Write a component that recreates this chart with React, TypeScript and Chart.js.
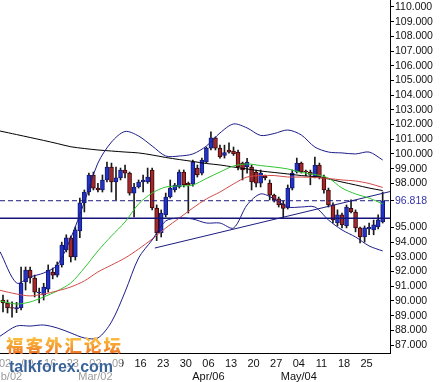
import React, { useEffect, useRef } from 'react';
import { Chart, registerables } from 'chart.js';

Chart.register(...registerables);

// ---- Candles (daily, Feb 02 .. May 29) ----
const opens = [90.06, 89.86, 89.55, 89.45, 89.52, 91.29, 92.10, 91.56, 90.55, 90.40, 90.80, 91.97, 91.76, 92.45, 93.47, 94.30, 92.99, 94.76, 96.67, 97.41, 98.57, 97.68, 97.55, 98.23, 99.11, 98.09, 98.37, 98.91, 98.70, 97.34, 97.75, 98.09, 98.09, 98.91, 96.32, 94.62, 95.85, 97.07, 97.55, 97.75, 98.77, 98.00, 97.95, 99.04, 98.70, 99.45, 100.40, 101.09, 100.40, 99.90, 100.27, 100.20, 100.13, 99.38, 99.11, 99.11, 98.77, 98.02, 98.50, 98.02, 97.20, 96.94, 96.60, 96.32, 97.68, 98.77, 99.38, 98.84, 98.77, 98.43, 99.25, 98.43, 97.55, 96.53, 95.30, 95.85, 95.10, 96.30, 96.05, 94.97, 94.35, 94.90, 94.83, 95.03, 95.38];
const highs = [90.40, 90.06, 89.93, 89.90, 92.30, 92.31, 92.31, 91.76, 90.88, 91.20, 92.45, 92.24, 92.65, 94.00, 94.50, 94.42, 95.03, 97.00, 97.55, 98.70, 98.77, 98.00, 98.57, 99.45, 99.38, 99.10, 99.04, 99.25, 98.77, 98.00, 98.23, 98.57, 99.04, 99.04, 96.53, 96.19, 97.34, 98.23, 98.00, 98.91, 98.91, 98.09, 99.59, 99.25, 99.72, 100.47, 101.50, 101.16, 100.60, 100.60, 100.75, 100.47, 100.27, 99.45, 99.70, 99.25, 98.91, 98.91, 98.57, 98.23, 97.27, 97.07, 96.80, 97.89, 98.91, 99.72, 99.45, 98.91, 98.90, 99.79, 99.38, 98.57, 97.68, 96.67, 96.20, 95.98, 96.53, 96.87, 96.19, 95.03, 95.10, 95.30, 95.50, 95.85, 97.41];
const lows = [89.25, 89.18, 88.90, 89.20, 89.38, 90.74, 91.20, 90.27, 89.86, 90.06, 90.60, 91.50, 91.63, 92.30, 93.33, 92.65, 92.78, 94.30, 96.05, 97.20, 97.55, 97.41, 97.41, 98.09, 97.41, 96.87, 98.23, 98.37, 97.20, 95.71, 97.68, 97.41, 98.00, 96.19, 94.10, 94.35, 95.71, 97.00, 97.41, 97.68, 97.75, 95.98, 97.80, 98.43, 98.57, 99.38, 100.27, 100.27, 99.72, 99.72, 100.05, 99.90, 98.91, 98.23, 98.70, 97.55, 97.75, 97.75, 98.23, 96.87, 96.73, 96.39, 95.62, 96.25, 97.55, 98.70, 98.70, 98.50, 97.90, 98.37, 98.30, 97.34, 96.39, 95.30, 95.10, 94.97, 94.97, 95.98, 94.70, 93.94, 94.00, 94.50, 94.50, 94.90, 95.30];
const closes = [89.86, 89.52, 89.50, 89.55, 91.22, 92.10, 91.56, 90.60, 90.60, 90.95, 92.10, 91.76, 92.45, 93.80, 94.30, 92.99, 94.83, 96.67, 97.41, 98.57, 97.68, 97.55, 98.23, 99.11, 98.09, 98.37, 98.91, 98.70, 97.34, 97.75, 98.09, 98.23, 98.43, 96.32, 94.62, 95.98, 97.07, 97.68, 97.89, 98.77, 97.89, 97.89, 99.45, 98.57, 99.59, 100.40, 101.09, 100.40, 99.79, 100.10, 100.13, 100.00, 99.11, 98.91, 99.45, 98.09, 98.02, 98.70, 98.37, 97.20, 96.87, 96.53, 96.30, 97.68, 98.70, 99.38, 98.77, 98.77, 98.60, 99.25, 98.43, 97.55, 96.53, 95.51, 95.85, 95.17, 96.39, 96.05, 94.97, 94.35, 94.97, 95.00, 95.17, 95.51, 96.818];

// ---- Indicators, read about every 3rd trading day (first point at the left edge) ----
const indIdx = [-0.66, 3, 6, 9, 12, 15, 18, 21, 24, 27, 30, 33, 36, 39, 42, 45, 48, 51, 54, 57, 60, 63, 66, 69, 72, 75, 78, 81, 84];
const longMA = [101.56, 101.32, 101.12, 100.92, 100.71, 100.49, 100.37, 100.27, 100.20, 100.13, 100.07, 99.93, 99.76, 99.62, 99.49, 99.35, 99.25, 99.11, 98.98, 98.84, 98.74, 98.64, 98.53, 98.45, 98.30, 98.09, 97.89, 97.68, 97.51];
const fastMA = [90.00, 89.79, 89.93, 90.27, 90.68, 91.22, 92.24, 93.40, 94.42, 95.37, 96.60, 97.34, 97.75, 97.82, 97.89, 98.33, 98.77, 99.18, 99.32, 99.21, 99.11, 98.98, 98.74, 98.60, 98.36, 97.68, 97.28, 97.00, 96.60];
const midMA = [90.72, 90.47, 90.34, 90.47, 90.68, 90.95, 91.36, 91.97, 92.44, 92.92, 93.53, 94.21, 94.96, 95.64, 96.32, 96.94, 97.41, 97.96, 98.43, 98.53, 98.53, 98.43, 98.43, 98.40, 98.33, 98.23, 98.16, 97.99, 97.72];
const upperBand = [93.35, 91.22, 91.63, 91.90, 92.44, 94.28, 96.73, 99.38, 100.81, 101.53, 101.22, 100.54, 99.86, 99.86, 100.00, 100.54, 101.43, 102.04, 101.77, 101.26, 101.39, 101.63, 101.29, 100.47, 100.13, 100.07, 100.00, 100.13, 99.59];
const lowerBand = [87.60, 88.29, 88.29, 88.36, 88.16, 87.82, 87.48, 87.48, 88.57, 90.61, 92.92, 94.15, 95.44, 95.64, 95.57, 95.30, 95.30, 94.96, 96.53, 97.28, 96.94, 96.39, 96.39, 96.39, 95.51, 94.83, 94.35, 93.74, 93.40];

// trendline (index, price) pairs
const trendIdx = [33.6, 85.62];
const trendVal = [93.6, 97.44];
const supportLevel = 95.62;
const LAST_PRICE = 96.818;

// ---- Axes ----
const X_MIN = -0.664;
const X_MAX = 85.62;
const Y_MIN = 86.456;
const Y_MAX = 110.476;
const weekIdx = [0, 5, 10, 15, 20, 25, 30, 35, 40, 45, 50, 55, 60, 65, 70, 75, 80];
const weekLabels = ['02', '09', '16', '23', '02', '09', '16', '23', '30', '06', '13', '20', '27', '04', '11', '18', '25'];
const monthIdx = [0, 20, 45, 65];
const monthLabels = ['Feb/02', 'Mar/02', 'Apr/06', 'May/04'];
const yTicks = [87, 88, 89, 90, 91, 92, 93, 94, 95, LAST_PRICE, 98, 99, 100, 101, 102, 103, 104, 105, 106, 107, 108, 109, 110];

const FONT = 'Liberation Sans, Arial, sans-serif';

export default function App() {
  const ref = useRef<HTMLCanvasElement | null>(null);

  useEffect(() => {
    if (!ref.current) return;
    const idx = opens.map((_, i) => i);
    const isUp = idx.map((i) => closes[i] >= opens[i]);
    const line = (vals: number[], color: string, extra: any = {}) => ({
      type: 'line',
      data: indIdx.map((x, k) => ({ x, y: vals[k] })),
      borderColor: color,
      borderWidth: 1,
      pointRadius: 0,
      fill: false,
      tension: 0.3,
      order: 0,
      ...extra,
    });

    const chart = new Chart(ref.current, {
      type: 'bar',
      data: {
        datasets: [
          {
            type: 'bar',
            data: idx.map((i) => ({ x: i, y: [lows[i], highs[i]] })),
            backgroundColor: '#1a1a1a',
            barThickness: 1,
            grouped: false,
            order: 3,
          } as any,
          {
            type: 'bar',
            data: idx.map((i) => ({ x: i, y: [opens[i], closes[i]] })),
            backgroundColor: isUp.map((u) => (u ? '#2233c8' : '#a3282c')),
            borderColor: isUp.map((u) => (u ? '#141a70' : '#3a0808')),
            borderWidth: 1,
            borderSkipped: false,
            barThickness: 4,
            grouped: false,
            order: 2,
          } as any,
          {
            type: 'line',
            data: [{ x: X_MIN, y: supportLevel }, { x: X_MAX, y: supportLevel }],
            borderColor: '#141478',
            borderWidth: 1.5,
            pointRadius: 0,
            order: 1,
          } as any,
          {
            type: 'line',
            data: [{ x: X_MIN, y: LAST_PRICE }, { x: X_MAX, y: LAST_PRICE }],
            borderColor: '#1c1c80',
            borderWidth: 1,
            borderDash: [5, 3],
            pointRadius: 0,
            order: 1,
          } as any,
          line(upperBand, '#1c1c8a'),
          line(lowerBand, '#1c1c8a'),
          line(midMA, '#d24a4a'),
          line(fastMA, '#2fc42f'),
          line(longMA, '#000000'),
          {
            type: 'line',
            data: trendIdx.map((x, k) => ({ x, y: trendVal[k] })),
            borderColor: '#1c1c80',
            borderWidth: 1,
            pointRadius: 0,
            order: 0,
          } as any,
        ] as any,
      },
      options: {
        responsive: false,
        devicePixelRatio: 1,
        animation: false,
        layout: { padding: 0 },
        plugins: { legend: { display: false }, tooltip: { enabled: false } },
        scales: {
          x: {
            type: 'linear',
            min: X_MIN,
            max: X_MAX,
            offset: false,
            afterBuildTicks: (s: any) => {
              s.ticks = weekIdx.map((v) => ({ value: v }));
            },
            afterFit: (s: any) => {
              s.height = 29;
              s.paddingLeft = 0;
              s.paddingRight = 0;
            },
            grid: { display: false, drawTicks: false },
            border: { display: true, color: '#000', width: 1 },
            ticks: {
              autoSkip: false,
              maxRotation: 0,
              minRotation: 0,
              labelOffset: 2,
              padding: 4,
              color: '#111',
              font: { family: FONT, size: 11 },
              callback: (v: any) => {
                const k = weekIdx.indexOf(Number(v));
                const m = monthIdx.indexOf(Number(v));
                if (k < 0) return '';
                return m >= 0 ? [weekLabels[k], monthLabels[m]] : weekLabels[k];
              },
            },
          },
          y: {
            type: 'linear',
            position: 'right',
            min: Y_MIN,
            max: Y_MAX,
            afterBuildTicks: (s: any) => {
              s.ticks = yTicks.map((v) => ({ value: v }));
            },
            afterFit: (s: any) => {
              s.width = 51;
              s.paddingTop = 0;
              s.paddingBottom = 0;
            },
            grid: { drawOnChartArea: false, drawTicks: true, tickLength: 4, color: '#000' },
            border: { display: true, color: '#000', width: 1 },
            ticks: {
              autoSkip: false,
              padding: 1,
              font: { family: FONT, size: 10.5 },
              color: (ctx: any) => (ctx.tick && ctx.tick.value === LAST_PRICE ? '#3535a8' : '#111'),
              callback: (v: any) => Number(v).toFixed(3),
            },
          },
        },
      } as any,
    });
    return () => chart.destroy();
  }, []);

  return (
    <div style={{ position: 'fixed', left: 0, top: 0, width: 441, height: 382, background: '#fff', overflow: 'hidden' }}>
      <canvas ref={ref} width={441} height={382} style={{ display: 'block' }} />
      <div
        style={{
          position: 'absolute', left: 0, top: 355, width: 122, height: 27,
          background: 'rgba(255,255,255,0.55)',
        }}
      />
      <div
        style={{
          position: 'absolute', left: 6, top: 333, fontFamily: 'Noto Sans CJK SC', fontWeight: 900,
          fontSize: 17.5, letterSpacing: 2, lineHeight: '23px', whiteSpace: 'nowrap',
          background: 'linear-gradient(to bottom, #ffd24a, #f4a030 55%, #ee6a2a)',
          WebkitBackgroundClip: 'text', backgroundClip: 'text', color: 'transparent',
        }}
      >
        福客外汇论坛
      </div>
      <div
        style={{
          position: 'absolute', left: 9, top: 357, fontFamily: FONT, fontWeight: 700,
          fontSize: 16, lineHeight: '20px', color: '#3a6498', whiteSpace: 'nowrap',
          textShadow: '0 0 2px #fff, 0 0 2px #fff',
        }}
      >
        talkforex.com
      </div>
    </div>
  );
}
